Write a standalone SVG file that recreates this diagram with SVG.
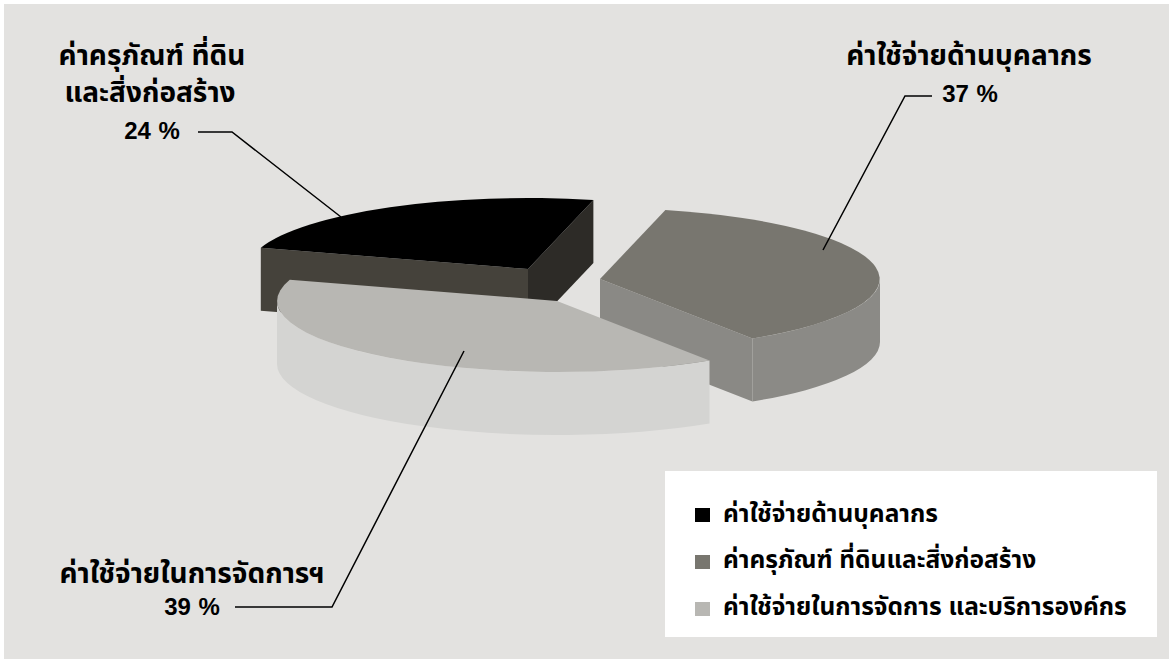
<svg xmlns="http://www.w3.org/2000/svg" width="1169" height="659" viewBox="0 0 1169 659">
<style>
.lbl{font-family:"Liberation Sans","Noto Sans Thai","DejaVu Sans",sans-serif;font-weight:bold;fill:#000;text-anchor:middle;font-size:28px}
.num{font-family:"Liberation Sans","DejaVu Sans",sans-serif;font-weight:bold;fill:#000;text-anchor:middle;font-size:24px;word-spacing:1px}
.leg{font-family:"Liberation Sans","Noto Sans Thai","DejaVu Sans",sans-serif;font-weight:bold;fill:#000;font-size:24.5px}
.ld{fill:none;stroke:#000;stroke-width:1.5}
</style>
<rect x="0" y="0" width="1169" height="659" fill="#ffffff"/>
<rect x="4" y="4" width="1165" height="655" fill="#e3e2e0"/>
<g id="slice-black">
<path d="M260.8,247.8 L528,269 L528,332 L260.8,310.8 Z" fill="#45423b"/>
<path d="M528,269 L593.4,200 L593.4,263 L528,332 Z" fill="#2d2b27"/>
<path d="M528,269 L260.8,247.8 A280,71 0 0 1 593.4,200 Z" fill="#000000"/>
</g>
<g id="slice-gray">
<path d="M600,279 L752.5,338.5 L752.5,401.5 L600,342 Z" fill="#8a8985"/>
<path d="M880,279 A280,71 0 0 1 752.5,338.5 L752.5,401.5 A280,71 0 0 0 880,342 Z" fill="#8b8a86"/>
<path d="M600,279 L665.4,210 A280,71 0 0 1 752.5,338.5 Z" fill="#78766f"/>
</g>
<g id="slice-light">
<path d="M709.5,360.5 A280,71 0 0 1 277,301 L277,364 A280,71 0 0 0 709.5,423.5 Z" fill="#d4d4d2"/>
<path d="M557,301 L709.5,360.5 A280,71 0 0 1 289.8,279.8 Z" fill="#b8b7b3"/>
</g>
<g id="connectors">
<polyline class="ld" points="198,132 232,132 341,217"/>
<polyline class="ld" points="823,250 905,96 932,96"/>
<polyline class="ld" points="235,607 332,607 464,351"/>
</g>
<g id="label-24">
<text class="lbl" x="152" y="65">ค่าครุภัณฑ์ ที่ดิน</text>
<text class="lbl" x="150" y="102">และสิ่งก่อสร้าง</text>
<text class="num" x="152" y="139">24 %</text>
</g>
<g id="label-37">
<text class="lbl" x="969" y="65">ค่าใช้จ่ายด้านบุคลากร</text>
<text class="num" x="970" y="102">37 %</text>
</g>
<g id="label-39">
<text class="lbl" x="192" y="583">ค่าใช้จ่ายในการจัดการฯ</text>
<text class="num" x="192" y="615">39 %</text>
</g>
<g id="legend">
<rect x="665" y="471" width="492" height="166" fill="#ffffff"/>
<rect x="695" y="508" width="15" height="14" fill="#000000"/>
<rect x="695" y="555" width="15" height="14" fill="#78766f"/>
<rect x="695" y="602" width="15" height="14" fill="#b8b7b3"/>
<text class="leg" x="723" y="522">ค่าใช้จ่ายด้านบุคลากร</text>
<text class="leg" x="723" y="568">ค่าครุภัณฑ์ ที่ดินและสิ่งก่อสร้าง</text>
<text class="leg" x="723" y="615">ค่าใช้จ่ายในการจัดการ และบริการองค์กร</text>
</g>
</svg>
